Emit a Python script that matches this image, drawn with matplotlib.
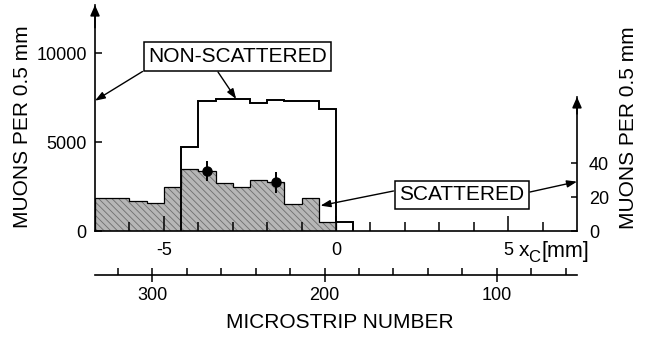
import numpy as np
import matplotlib.pyplot as plt

plt.rcParams['font.family'] = ['Liberation Sans', 'DejaVu Sans']
plt.rcParams['hatch.linewidth'] = 0.6

# non-scattered muons per 0.5 mm bin (left scale)
nonscat_edges = [-4.5, -4.0, -3.5, -3.0, -2.5, -2.0, -1.5, -1.0, -0.5, 0.0, 0.5]
nonscat_counts = [4710, 7330, 7430, 7430, 7230, 7370, 7300, 7300, 6880, 520]

# scattered muons per 0.5 mm bin (right scale)
scat_edges = [-7.0, -6.5, -6.0, -5.5, -5.0, -4.5, -4.0, -3.5, -3.0, -2.5,
              -2.0, -1.5, -1.0, -0.5, 0.0]
scat_counts = [19.7, 19.7, 17.9, 16.4, 25.9, 36.7, 35.5, 28.2, 26.2, 30.2,
               28.8, 16.0, 19.3, 5.5]

# two sample bins shown with their statistical errors
err_x = [-3.75, -1.75]
err_y = [35.5, 28.8]
err_dy = [6.1, 6.2]

# microstrip numbering vs x_C
strip_pitch = 0.05     # mm per strip
strip_200_pos = -0.33  # x_C of strip 200
strip_major = [300, 200, 100]
strip_minor = [320, 280, 260, 240, 220, 180, 160, 140, 120, 80, 60]

xlim = (-7.0, 7.0)
ylim_left = (0, 12718)
ylim_right = (0, 133.7)
right_top = 79.3

W, H = 650, 337
fig = plt.figure(figsize=(W / 100, H / 100), dpi=100)
L, R, B, T = 95 / W, 577 / W, 1 - 231 / H, 1 - 5 / H
ax = fig.add_axes([L, B, R - L, T - B])
ax2 = ax.twinx()
ax.set_zorder(ax2.get_zorder() + 1)
ax.patch.set_visible(False)

# scattered histogram (shaded) on the right scale
ax2.stairs(scat_counts, scat_edges, baseline=0, fill=True, facecolor='#b6b6b6',
           edgecolor='#6e6e6e', hatch='\\\\\\\\\\', linewidth=0)
ax2.stairs(scat_counts, scat_edges, baseline=0, fill=False, color='k', lw=0.9)
ax2.errorbar(err_x, err_y, yerr=err_dy, fmt='o', color='k', ms=6.5,
             elinewidth=1.4, capsize=0)

# non-scattered histogram outline on the left scale
ax.stairs(nonscat_counts, nonscat_edges, baseline=0, fill=False, color='k', lw=1.4)

ax.set_xlim(*xlim)
ax.set_ylim(*ylim_left)
ax2.set_ylim(*ylim_right)

for s in ['top', 'right']:
    ax.spines[s].set_visible(False)
for s in ['top', 'left', 'bottom']:
    ax2.spines[s].set_visible(False)
for a in (ax, ax2):
    for s in a.spines.values():
        s.set_linewidth(1.2)
ax2.spines['right'].set_bounds(0, right_top)

ax.set_xticks([-5, 0, 5])
ax.set_xticklabels(['-5', '0', '5'])
ax.set_xticks([-6, -4, -3, -2, -1, 1, 2, 3, 4, 6], minor=True)
ax.tick_params(axis='x', which='major', direction='in', length=10.5, width=1.1,
               labelsize=13, pad=8)
ax.tick_params(axis='x', which='minor', direction='in', length=6.5, width=1.1)

ax.set_yticks([0, 5000, 10000])
ax.tick_params(axis='y', direction='in', length=5, width=1.1, labelsize=13, pad=6)
ax2.set_yticks([0, 20, 40])
ax2.tick_params(axis='y', direction='in', length=4.5, width=1.1, labelsize=13, pad=8.5)

arrow_head = dict(arrowstyle='-|>,head_length=0.45,head_width=0.2', color='k',
                  lw=1.2, mutation_scale=14, shrinkA=0, shrinkB=0)
ax.annotate('', xy=(0, 1), xytext=(0, 0.9), xycoords='axes fraction',
            arrowprops=arrow_head, annotation_clip=False)
ax2.annotate('', xy=(xlim[1], right_top), xytext=(xlim[1], right_top - 10),
             arrowprops=arrow_head, annotation_clip=False)

# axis titles
fig.text(23 / W, 1 - 127 / H, 'MUONS PER 0.5 mm', rotation=90, fontsize=15,
         ha='center', va='center')
fig.text(629 / W, 1 - 128 / H, 'MUONS PER 0.5 mm', rotation=90, fontsize=15,
         ha='center', va='center')
# x_C [mm] drawn piece by piece so the subscript sits low like a typeset label
fig.text(519 / W, 1 - 256 / H, 'x', fontsize=15, ha='left', va='baseline')
fig.text(528 / W, 1 - 262 / H, 'C', fontsize=12, ha='left', va='baseline')
fig.text(541.5 / W, 1 - 257.5 / H, '[mm]', fontsize=15.5, ha='left', va='baseline')

# callout boxes
box = dict(boxstyle='square,pad=0.22', facecolor='white', edgecolor='k', lw=1.1)
line_arrow = dict(arrowstyle='-|>,head_length=0.5,head_width=0.18', color='k',
                  lw=1.0, mutation_scale=12, shrinkA=0, shrinkB=0)
fig.text(237.5 / W, 1 - 56.5 / H, 'NON-SCATTERED', fontsize=15, ha='center',
         va='center', bbox=box)
ax.annotate('', xy=(-7.0, 7333), xytext=(142.5, H - 71.5),
            textcoords='figure pixels', arrowprops=line_arrow, annotation_clip=False)
ax.annotate('', xy=(-2.9, 7430), xytext=(218, H - 72),
            textcoords='figure pixels', arrowprops=line_arrow)

fig.text(461.7 / W, 1 - 195 / H, 'SCATTERED', fontsize=15, ha='center',
         va='center', bbox=box)
ax2.annotate('', xy=(-0.45, 15), xytext=(393.5, H - 191),
             textcoords='figure pixels', arrowprops=line_arrow)
ax2.annotate('', xy=(xlim[1], 29.2), xytext=(530, H - 192),
             textcoords='figure pixels', arrowprops=line_arrow, annotation_clip=False)

# microstrip number scale below
ax3 = fig.add_axes([L, 1 - 275 / H, R - L, 0.0001])
s_left = 200 - (xlim[0] - strip_200_pos) / strip_pitch
s_right = 200 - (xlim[1] - strip_200_pos) / strip_pitch
ax3.set_xlim(s_left, s_right)
ax3.set_yticks([])
for s in ['top', 'left', 'right']:
    ax3.spines[s].set_visible(False)
ax3.spines['bottom'].set_linewidth(1.2)
ax3.patch.set_visible(False)
ax3.set_xticks(strip_major)
ax3.set_xticklabels([str(v) for v in strip_major])
ax3.set_xticks(strip_minor, minor=True)
ax3.tick_params(axis='x', which='major', direction='inout', length=10, width=1.1,
                labelsize=13, pad=4)
ax3.tick_params(axis='x', which='minor', direction='in', length=4.8, width=1.1)
fig.text(340 / W, 1 - 322.5 / H, 'MICROSTRIP NUMBER', fontsize=15,
         ha='center', va='center')

fig.savefig('out.png', dpi=100)
